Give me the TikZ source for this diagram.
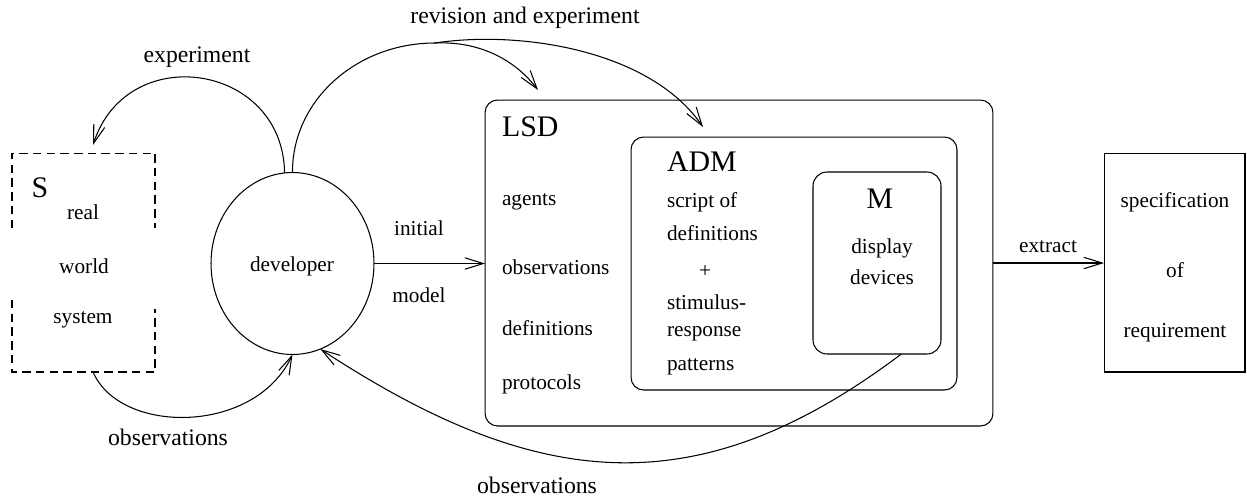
\documentclass[tikz,border=0pt]{standalone}
\usepackage{fontspec}
\setmainfont{Liberation Serif}
\newfontfamily\tnr{Liberation Serif}
\usetikzlibrary{arrows.meta,shapes.geometric}
\begin{document}
\begin{tikzpicture}[x=0.02cm,y=-0.02cm, line width=0.6pt,
  every node/.style={inner sep=0pt, outer sep=0pt},
  txt/.style={font=\tnr\fontsize{12.1}{14}\selectfont},
  lab/.style={font=\tnr\fontsize{13.5}{16}\selectfont},
  big/.style={font=\tnr\fontsize{17}{20}\selectfont},
  rbox/.style={draw, rounded corners=0.25cm},
  sdash/.style={dash pattern=on 4.8pt off 3pt},
  arr/.style={-{Straight Barb[length=10.5pt,width=6.5pt]}}
]
\useasboundingbox (0,0) rectangle (1247,498);

% S box (dashed, broken sides)
\node[minimum width=2.86cm, minimum height=4.38cm] (sbox) at (83.5,262.5) {};
\draw[sdash] (sbox.west |- 0,228) -- (sbox.north west) -- (sbox.north east) -- (sbox.east |- 0,228);
\draw[sdash] (sbox.west |- 0,300) -- (sbox.south west) -- (sbox.south east) -- (sbox.east |- 0,309);
\node[big] (stitle) at (40,188) {S};
\node[txt] (sreal) at (83,212) {real};
\node[txt] (sworld) at (84,266) {world};
\node[txt] (ssystem) at (83,320) {system};

% developer
\node[draw, ellipse, minimum width=3.26cm, minimum height=3.64cm] (dev) at (292.5,263.5) {};
\node[txt] (devt) at (292,266) {developer};

% LSD box
\node[rbox, minimum width=10.16cm, minimum height=6.52cm] (lsd) at (739,263) {};
\node[big, anchor=west] (lsdt) at (502,127) {LSD};
\node[txt, anchor=west] (l1) at (502,202) {agents};
\node[txt, anchor=west] (l2) at (502,267) {observations};
\node[txt, anchor=west] (l3) at (502,328) {definitions};
\node[txt, anchor=west] (l4) at (502,384) {protocols};

% ADM box
\node[rbox, minimum width=6.52cm, minimum height=5.06cm] (adm) at (794,263.5) {};
\node[big, anchor=west] (admt) at (667,162) {ADM};
\node[txt, anchor=west] (a1) at (667,202) {script of};
\node[txt, anchor=west] (a2) at (667,233) {definitions};
\node[txt] (a3) at (705,271) {+};
\node[txt, anchor=west] (a4) at (667,302) {stimulus-};
\node[txt, anchor=west] (a5) at (667,334) {response};
\node[txt, anchor=west] (a6) at (667,367) {patterns};

% M box
\node[rbox, rounded corners=0.28cm, minimum width=2.56cm, minimum height=3.64cm] (m) at (877,263) {};
\node[big] (mt) at (880,199) {M};
\node[txt] (m1) at (882,248) {display};
\node[txt] (m2) at (882,277) {devices};

% specification box
\node[draw, minimum width=2.82cm, minimum height=4.38cm] (spec) at (1174.5,262.5) {};
\node[txt] (sp1) at (1175,202) {specification};
\node[txt] (sp2) at (1175,270) {of};
\node[txt] (sp3) at (1175,333) {requirement};

% free ends
\coordinate (expt) at (93,145);
\coordinate (fork) at (435,43);
\coordinate (revA) at (538,90);
\coordinate (revB) at (703,127);

% connectors
\draw[arr] (dev.95) .. controls (283,63) and (127,40) .. (expt);
\draw[arr] (sbox.-85) .. controls (120,435) and (255,435) .. (dev.south);
\draw[arr] (dev.east) -- (dev.east -| lsd.west);
\draw[arr] (lsd.east) -- (lsd.east -| spec.west);
\draw (dev.north) .. controls (292,101) and (356,43) .. (fork);
\draw[arr] (fork) .. controls (480,41) and (515,60) .. (revA);
\draw[arr] (fork) .. controls (520,30) and (650,50) .. (revB);
\draw[arr] (m.-75) .. controls (697,508) and (537,491) .. (dev.-72);

% labels
\node[lab] (lexp) at (197,57) {experiment};
\node[lab] (lrev) at (525,18) {revision and experiment};
\node[lab] (lobs1) at (168,437) {observations};
\node[lab] (lobs2) at (537,485) {observations};
\node[txt] (linit) at (419,228) {initial};
\node[txt] (lmodel) at (419,295) {model};
\node[txt] (lext) at (1048,247) {extract};
\end{tikzpicture}
\end{document}
